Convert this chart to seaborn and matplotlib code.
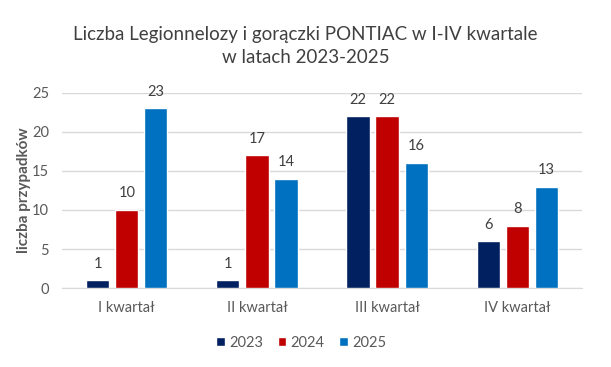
import pandas as pd
import matplotlib.pyplot as plt
import seaborn as sns


quarters = ["I kwartał", "II kwartał", "III kwartał", "IV kwartał"]
years = ["2023", "2024", "2025"]
cases_2023 = [1, 1, 22, 6]
cases_2024 = [10, 17, 22, 8]
cases_2025 = [23, 14, 16, 13]

palette = {"2023": "#002060", "2024": "#C00000", "2025": "#0070C0"}


def build_frame() -> pd.DataFrame:
    rows = []
    for year, values in zip(years, [cases_2023, cases_2024, cases_2025]):
        for q, v in zip(quarters, values):
            rows.append({"kwartal": q, "rok": year, "liczba": v})
    return pd.DataFrame(rows)


def main() -> None:
    df = build_frame()

    sns.set_style("white")
    plt.rcParams["font.family"] = ["Lato", "DejaVu Sans"]

    fig = plt.figure(figsize=(6.11, 3.67), dpi=100)
    ax = fig.add_axes([0.101, 0.215, 0.852, 0.532])

    sns.barplot(
        data=df, x="kwartal", y="liczba", hue="rok",
        palette=palette, saturation=1, width=0.67, gap=0.2, ax=ax, zorder=3,
    )

    for container in ax.containers:
        ax.bar_label(container, padding=7, fontsize=10.5, color="#404040")

    ax.set_ylim(0, 25)
    ax.set_yticks([0, 5, 10, 15, 20, 25])
    ax.yaxis.grid(True, color="#d9d9d9", linewidth=1, zorder=0)
    ax.set_axisbelow(True)
    for side in ["top", "right", "left"]:
        ax.spines[side].set_visible(False)
    ax.spines["bottom"].set_color("#d9d9d9")

    ax.tick_params(axis="both", length=0, labelsize=10.5, labelcolor="#595959", pad=9)
    ax.set_xlabel("")
    ax.set_ylabel("liczba przypadków", fontsize=11, fontweight="bold",
                  color="#595959", labelpad=1)

    fig.suptitle(
        "Liczba Legionnelozy i gorączki PONTIAC w I-IV kwartale\nw latach 2023-2025",
        y=0.93, fontsize=13.5, color="#404040", linespacing=1.45,
    )

    ax.legend(
        loc="center", bbox_to_anchor=(0.46, -0.28), ncol=3, frameon=False,
        fontsize=10.5, handlelength=0.6, handleheight=0.6, handletextpad=0.3,
        columnspacing=1.0, labelcolor="#595959",
    )

    fig.savefig("out.png", dpi=100)
    plt.close(fig)


if __name__ == "__main__":
    main()
